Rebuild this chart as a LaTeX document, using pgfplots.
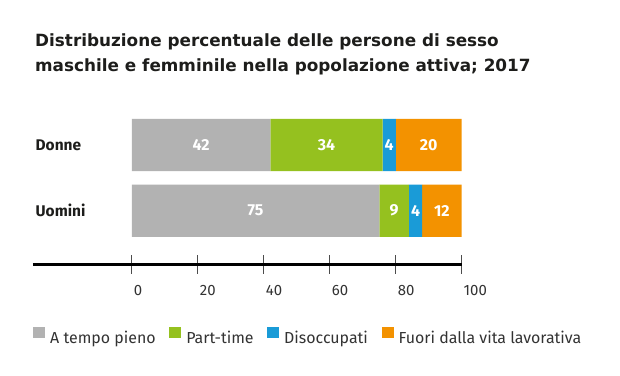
\documentclass[border=0pt]{standalone}
\usepackage{fontspec}
\setmainfont{Fira Sans}
\newfontfamily\titlefont{DejaVu Sans}
\usepackage{pgfplots}
\pgfplotsset{compat=1.18}
\definecolor{cgray}{HTML}{B2B2B2}
\definecolor{cgreen}{HTML}{95C11F}
\definecolor{cblue}{HTML}{1A9BD7}
\definecolor{corange}{HTML}{F39200}
\definecolor{ctext}{HTML}{1D1D1B}
\begin{document}
\begin{tikzpicture}
\fill[white,use as bounding box] (0,0) rectangle (620bp,376bp);
\node[anchor=base west, inner sep=0pt, text=ctext, font=\titlefont\bfseries\fontsize{16.9}{20}\selectfont] at (35bp,329.3bp) {Distribuzione percentuale delle persone di sesso};
\node[anchor=base west, inner sep=0pt, text=ctext, font=\titlefont\bfseries\fontsize{16.9}{20}\selectfont] at (35bp,304.3bp) {maschile e femminile nella popolazione attiva; 2017};
\begin{axis}[
  at={(33bp,111.5bp)}, anchor=south west, scale only axis,
  width=428.7bp, height=152.35bp,
  xmin=-30, xmax=100, ymin=-0.819, ymax=1.5,
  xbar stacked, bar width=52.3bp,
  axis x line*=bottom, axis y line*=left,
  y axis line style={draw=none},
  x axis line style={line width=2.2bp, black},
  xtick={0,20,40,60,80,100},
  ytick={0,1}, yticklabels={Uomini,Donne},
  ytick style={draw=none},
  xtick style={line width=0.9bp, color=black!70},
  major tick length=19bp, tick align=center,
  xticklabel style={anchor=north west, xshift=-1.5bp, yshift=-8bp, text=black!80, font=\fontsize{15}{18}\selectfont},
  /pgf/number format/assume math mode=true,
  yticklabel style={anchor=west, inner xsep=0pt, xshift=12bp, text=ctext, font=\bfseries\fontsize{15.5}{18}\selectfont},
  legend columns=4,
  legend image code/.code={\fill[#1] (0bp,0bp) rectangle (12bp,11.5bp);},
  legend style={at={(0,-0.469)}, anchor=west, draw=none, fill=none, inner sep=0pt,
    font=\fontsize{16}{18}\selectfont, text=black!80,
    column sep=5bp, /tikz/every even column/.append style={column sep=13.6bp},
    nodes={inner sep=0pt}},
]
\addplot[fill=cgray, draw=none] coordinates {(42,1) (75,0)};
\addplot[fill=cgreen, draw=none] coordinates {(34,1) (9,0)};
\addplot[fill=cblue, draw=none] coordinates {(4,1) (4,0)};
\addplot[fill=corange, draw=none] coordinates {(20,1) (12,0)};
\legend{A tempo pieno, Part-time, Disoccupati, Fuori dalla vita lavorativa}
\end{axis}
\begin{axis}[
  at={(33bp,111.5bp)}, anchor=south west, scale only axis,
  width=428.7bp, height=152.35bp,
  xmin=-30, xmax=100, ymin=-0.819, ymax=1.5,
  hide axis,
]
\addplot[draw=none, mark=none, nodes near coords, point meta=explicit symbolic,
  nodes near coords align=center,
  every node near coord/.append style={text=white, inner sep=0pt, font=\bfseries\fontsize{16}{19}\selectfont}]
  coordinates {(21,1) [42] (59,1) [34] (78,1) [4] (90,1) [20]
               (37.5,0) [75] (79.5,0) [9] (86,0) [4] (94,0) [12]};
\end{axis}
\end{tikzpicture}
\end{document}
